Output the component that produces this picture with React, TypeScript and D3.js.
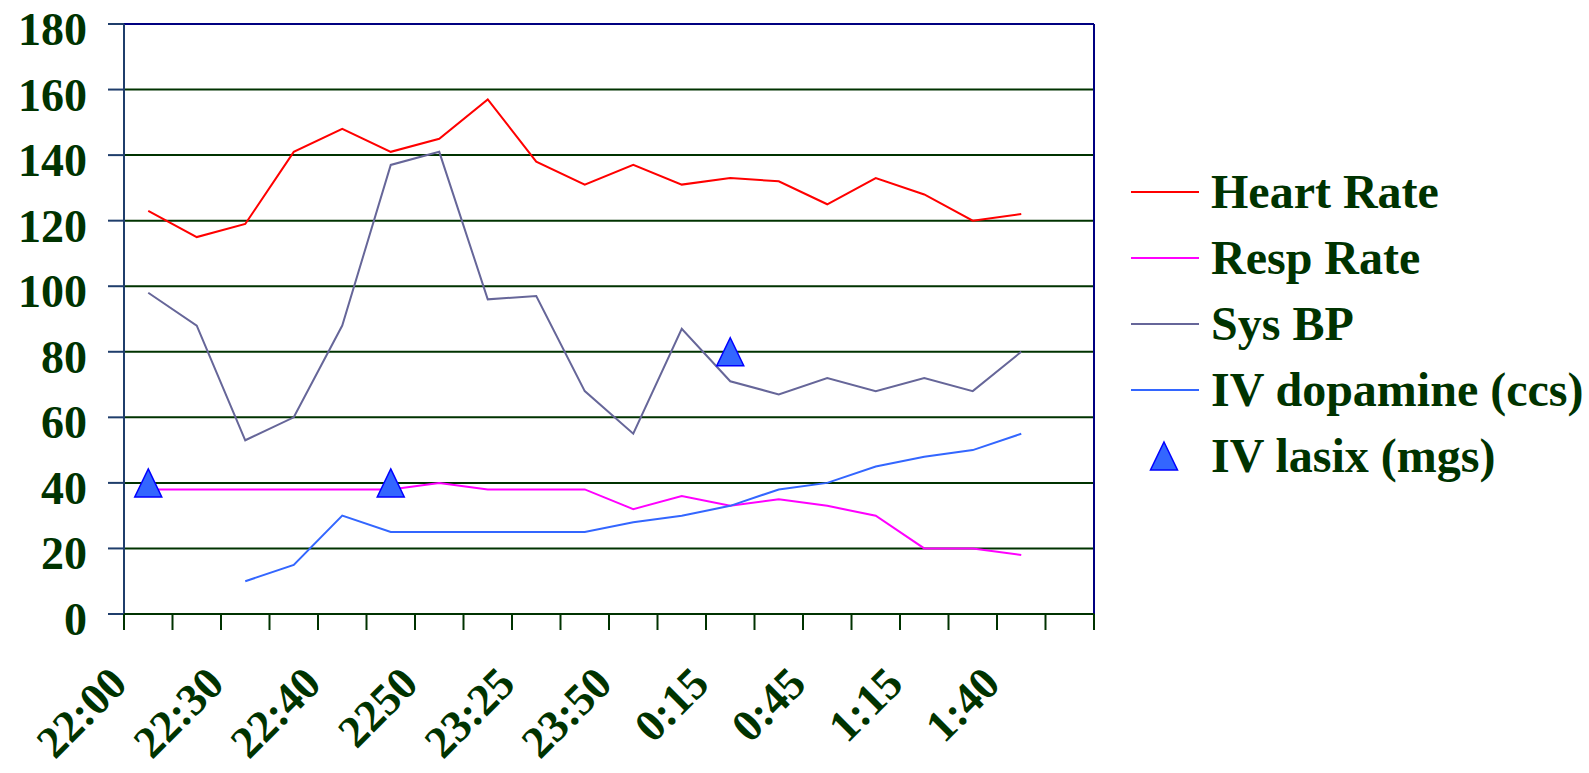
import React from "react";
import * as d3 from "d3";

// ---- data ----
const slotCount = 20; // category slots on the x axis
const timeLabels = ["22:00", "22:30", "22:40", "2250", "23:25", "23:50", "0:15", "0:45", "1:15", "1:40"];
const heartRate = [123, 115, 119, 141, 148, 141, 145, 157, 138, 131, 137, 131, 133, 132, 125, 133, 128, 120, 122];
const respRate = [38, 38, 38, 38, 38, 38, 40, 38, 38, 38, 32, 36, 33, 35, 33, 30, 20, 20, 18];
const sysBP = [98, 88, 53, 60, 88, 137, 141, 96, 97, 68, 55, 87, 71, 67, 72, 68, 72, 68, 80];
const ivDopamine: (number | null)[] = [null, null, 10, 15, 30, 25, 25, 25, 25, 25, 28, 30, 33, 38, 40, 45, 48, 50, 55];
const ivLasix: (number | null)[] = [40, null, null, null, null, 40, null, null, null, null, null, null, 80, null, null, null, null, null, null];
const yTicks = [0, 20, 40, 60, 80, 100, 120, 140, 160, 180];

const seriesNames = ["Heart Rate", "Resp Rate", "Sys BP", "IV dopamine (ccs)", "IV lasix (mgs)"];
const seriesColors = ["#FF0000", "#FF00FF", "#666699", "#3366FF", "#3366FF"];

const W = 1589;
const H = 773;
const left = 124, right = 1094, top = 24, bottom = 614;
const green = "#003300";
const navy = "#000080";
const font = "'Liberation Serif', 'Times New Roman', serif";

const triType = {
  draw(ctx: any, size: number) {
    const w = 27, h = 28;
    ctx.moveTo(0, -h / 2);
    ctx.lineTo(w / 2, h / 2);
    ctx.lineTo(-w / 2, h / 2);
    ctx.closePath();
  },
};

export default function App() {
  const x = d3.scaleBand<number>().domain(d3.range(slotCount)).range([left, right]).padding(0);
  const bw = x.bandwidth();
  const cx = (i: number) => (x(i) as number) + bw / 2;
  const y = d3.scaleLinear().domain([0, 180]).range([bottom, top]);

  const line = d3
    .line<number | null>()
    .defined((d) => d != null)
    .x((_, i) => cx(i))
    .y((d) => y(d as number));

  const lineSeries = [heartRate, respRate, sysBP, ivDopamine];
  const tri = d3.symbol(triType as any)();

  const boundaries = d3.range(slotCount + 1).map((k) => left + k * bw);

  return (
    <svg width={W} height={H} style={{ position: "absolute", left: 0, top: 0, background: "#fff" }}>
      <rect x={0} y={0} width={W} height={H} fill="#fff" />
      {/* gridlines */}
      {yTicks.filter((t) => t > 0 && t < 180).map((t) => (
        <line key={"g" + t} x1={left} x2={right} y1={y(t)} y2={y(t)} stroke={green} strokeWidth={2} />
      ))}
      {/* y ticks */}
      {yTicks.map((t) => (
        <line key={"yt" + t} x1={108} x2={left} y1={y(t)} y2={y(t)} stroke="#1f3d6b" strokeWidth={2} />
      ))}
      {/* border */}
      <line x1={left} x2={right} y1={top} y2={top} stroke={navy} strokeWidth={2} />
      <line x1={right} x2={right} y1={top} y2={bottom} stroke={navy} strokeWidth={2} />
      <line x1={left} x2={left} y1={top} y2={bottom} stroke="#1f3d6b" strokeWidth={2} />
      {/* x axis */}
      <line x1={left} x2={right} y1={bottom} y2={bottom} stroke={green} strokeWidth={2} />
      {boundaries.map((bx, k) => (
        <line key={"xt" + k} x1={bx} x2={bx} y1={bottom} y2={bottom + 16} stroke={green} strokeWidth={2} />
      ))}
      {/* y labels */}
      {yTicks.map((t) => (
        <text key={"yl" + t} x={87} y={y(t) + 21} textAnchor="end" fontFamily={font} fontWeight="bold" fontSize={46} fill={green}>
          {t}
        </text>
      ))}
      {/* x labels */}
      {timeLabels.map((lab, j) => {
        const i = j * 2;
        const ax = cx(i) - 19;
        const ay = 686;
        return (
          <text key={"xl" + j} transform={`translate(${ax},${ay}) rotate(-45)`} textAnchor="end" fontFamily={font} fontWeight="bold" fontSize={45} fill={green}>
            {lab}
          </text>
        );
      })}
      {/* series lines */}
      {lineSeries.map((s, k) => (
        <path key={"s" + k} d={line(s) || ""} fill="none" stroke={seriesColors[k]} strokeWidth={2} />
      ))}
      {/* lasix markers */}
      {ivLasix.map((v, i) =>
        v == null ? null : (
          <path key={"m" + i} d={tri || ""} transform={`translate(${cx(i)},${y(v)})`} fill="#3366FF" stroke="#0000FF" strokeWidth={1.5} />
        )
      )}
      {/* legend */}
      {seriesNames.map((name, k) => {
        const ly = 192 + k * 66;
        return (
          <g key={"lg" + k}>
            {k < 4 ? (
              <line x1={1131} x2={1199} y1={ly} y2={ly} stroke={seriesColors[k]} strokeWidth={2} />
            ) : (
              <path d={tri || ""} transform={`translate(1164,${ly})`} fill="#3366FF" stroke="#0000FF" strokeWidth={1.5} />
            )}
            <text x={1211} y={ly + 16} fontFamily={font} fontWeight="bold" fontSize={48} fill={green}>
              {name}
            </text>
          </g>
        );
      })}
    </svg>
  );
}
